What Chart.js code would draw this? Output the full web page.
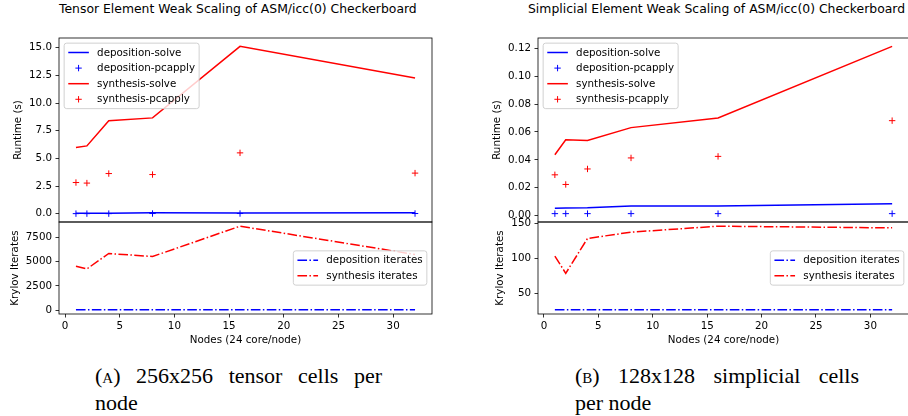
<!DOCTYPE html>
<html>
<head>
<meta charset="utf-8">
<script src="https://cdn.jsdelivr.net/npm/chart.js@4.4.1/dist/chart.umd.min.js"></script>
<style>
body { margin:0; width:908px; height:416px; overflow:hidden; background:#fff; position:relative; font-family:"DejaVu Sans"; }
canvas { position:absolute; }
.title { position:absolute; top:0; font-size:12.4px; line-height:17px; white-space:nowrap; color:#000; }
.cap { position:absolute; font-family:"Liberation Serif"; font-size:22px; line-height:27px; color:#000; }
.just { text-align:justify; text-align-last:justify; }
.sc { font-variant:small-caps; }
</style>
</head>
<body>
<div class="title" style="left:59px">Tensor Element Weak Scaling of ASM/icc(0) Checkerboard</div>
<div class="title" style="left:528px">Simplicial Element Weak Scaling of ASM/icc(0) Checkerboard</div>

<canvas id="tensorRuntime" width="442" height="204" style="left:0;top:28px"></canvas>
<canvas id="tensorIterates" width="442" height="136" style="left:0;top:212px"></canvas>
<canvas id="simplexRuntime" width="440" height="204" style="left:479px;top:28px"></canvas>
<canvas id="simplexIterates" width="440" height="136" style="left:479px;top:212px"></canvas>

<div class="cap" style="left:95px;top:362px;width:287px">
  <div class="just">(<span class="sc">a</span>) 256x256 tensor cells per</div>
  <div>node</div>
</div>
<div class="cap" style="left:575px;top:362px;width:284px">
  <div class="just">(<span class="sc">b</span>) 128x128 simplicial cells</div>
  <div>per node</div>
</div>

<script>
// nodes on the x axis
const nodes = [1, 2, 4, 8, 16, 32];
const xTicks = [0, 5, 10, 15, 20, 25, 30];

// 256x256 tensor cells per node
const tensorDepSolve = [0.04, 0.05, 0.05, 0.09, 0.07, 0.10];
const tensorDepPcapply = [0.01, 0.01, 0.01, 0.02, 0.02, 0.02];
const tensorSynSolve = [5.98, 6.13, 8.41, 8.66, 15.12, 12.26];
const tensorSynPcapply = [2.82, 2.77, 3.63, 3.54, 5.50, 3.67];
const tensorDepIter = [40, 41, 41, 42, 42, 43];
const tensorSynIter = [4540, 4260, 5850, 5540, 8670, 5750];
const tensorRuntimeTicks = [0, 2.5, 5, 7.5, 10, 12.5, 15];
const tensorIterTicks = [0, 2500, 5000, 7500];

// 128x128 simplicial cells per node
const simplexDepSolve = [0.0053, 0.0056, 0.0058, 0.0069, 0.0070, 0.0086];
const simplexDepPcapply = [0.0015, 0.0015, 0.0015, 0.0015, 0.0015, 0.0015];
const simplexSynSolve = [0.0437, 0.0544, 0.0539, 0.0631, 0.0700, 0.1213];
const simplexSynPcapply = [0.0293, 0.0224, 0.0335, 0.0414, 0.0425, 0.0681];
const simplexDepIter = [27, 27, 27, 27, 27, 27];
const simplexSynIter = [103.3, 78.8, 128.3, 137.2, 145.7, 143.3];
const simplexRuntimeTicks = [0, 0.02, 0.04, 0.06, 0.08, 0.10, 0.12];
const simplexIterTicks = [50, 100, 150];

Chart.defaults.font.family = '"DejaVu Sans"';
Chart.defaults.font.size = 10.3;
Chart.defaults.color = '#000';

const FS = 10.3;
const DASHDOT = [9.6, 2.4, 1.5, 2.4];

// matplotlib-like autoscale with 5% margins
function limits(arrs) {
  const all = [].concat(...arrs);
  const lo = Math.min(...all), hi = Math.max(...all);
  const m = (hi - lo) * 0.05;
  return [lo - m, hi + m];
}
const xLim = limits([nodes]);

function pts(ys) {
  return nodes.map((x, i) => ({ x: x, y: ys[i] }));
}

function drawLegend(chart, opts) {
  const ctx = chart.ctx, a = chart.chartArea;
  const pad = 0.4 * FS, hl = 2 * FS, htp = 0.8 * FS, ls = 0.5 * FS, bap = 0.5 * FS, rowH = 10.45;
  ctx.save();
  ctx.font = FS + 'px "DejaVu Sans"';
  const tw = Math.max(...opts.items.map(it => ctx.measureText(it.label).width));
  const n = opts.items.length;
  const w = 2 * pad + hl + htp + tw;
  const h = 2 * pad + n * rowH + (n - 1) * ls;
  let x, y;
  if (opts.loc === 'upper left') { x = a.left + bap; y = a.top + bap; }
  else { x = a.right - bap - w; y = (a.top + a.bottom) / 2 - h / 2; }

  ctx.beginPath();
  ctx.roundRect(x, y, w, h, 2.5);
  ctx.fillStyle = 'rgba(255,255,255,0.8)';
  ctx.fill();
  ctx.strokeStyle = '#cccccc';
  ctx.lineWidth = 0.9;
  ctx.stroke();

  opts.items.forEach((it, i) => {
    const cy = y + pad + i * (rowH + ls) + rowH / 2;
    const hx = x + pad;
    ctx.strokeStyle = it.color;
    if (it.kind === 'plus') {
      const cx = hx + hl / 2, r = 3.2;
      ctx.lineWidth = 1;
      ctx.setLineDash([]);
      ctx.beginPath();
      ctx.moveTo(cx - r, cy); ctx.lineTo(cx + r, cy);
      ctx.moveTo(cx, cy - r); ctx.lineTo(cx, cy + r);
      ctx.stroke();
    } else {
      ctx.lineWidth = 1.5;
      ctx.setLineDash(it.kind === 'dashdot' ? DASHDOT : []);
      ctx.beginPath();
      ctx.moveTo(hx, cy); ctx.lineTo(hx + hl, cy);
      ctx.stroke();
    }
    ctx.setLineDash([]);
    ctx.fillStyle = '#000';
    ctx.textBaseline = 'middle';
    ctx.textAlign = 'left';
    ctx.fillText(it.label, hx + hl + htp, cy + 0.5);
  });
  ctx.restore();
}

const mplBox = {
  id: 'mplBox',
  afterDraw(chart, args, opts) {
    const { ctx, chartArea: a } = chart;
    ctx.save();
    ctx.strokeStyle = '#000';
    ctx.lineWidth = 0.8;
    ctx.strokeRect(a.left, a.top, a.right - a.left, a.bottom - a.top);
    ctx.restore();
    if (opts.items) drawLegend(chart, opts);
  }
};

function lineSet(label, ys, color, dash) {
  return {
    label: label, data: pts(ys), borderColor: color, borderWidth: 1.5,
    borderDash: dash || [], pointRadius: 0, tension: 0, fill: false
  };
}
function plusSet(label, ys, color) {
  return {
    label: label, data: pts(ys), borderColor: color, backgroundColor: color,
    showLine: false, pointStyle: 'cross', pointRadius: 3.2, pointBorderWidth: 1
  };
}

function yScale(lim, ticks, dec, title, titlePad) {
  return {
    type: 'linear', min: lim[0], max: lim[1],
    afterBuildTicks: s => { s.ticks = ticks.map(v => ({ value: v })); },
    afterFit: s => { s.width = 59; },
    ticks: { padding: 3.5, callback: v => v.toFixed(dec) },
    grid: { drawOnChartArea: false, drawTicks: true, tickLength: 3.5, color: '#000', lineWidth: 0.8 },
    border: { display: false },
    title: { display: true, text: title, padding: { top: titlePad, bottom: 0 } }
  };
}

function xScale(show) {
  return {
    type: 'linear', min: xLim[0], max: xLim[1], display: show,
    afterBuildTicks: s => { s.ticks = xTicks.map(v => ({ value: v })); },
    afterFit: s => { s.height = show ? 34 : 0; },
    ticks: { padding: 3, maxRotation: 0, callback: v => String(v) },
    grid: { drawOnChartArea: false, drawTicks: true, tickLength: 3.5, color: '#000', lineWidth: 0.8 },
    border: { display: false },
    title: { display: true, text: 'Nodes (24 core/node)', padding: { top: 0, bottom: 1 } }
  };
}

function runtimeChart(id, depSolve, depPc, synSolve, synPc, ticks, dec, titlePad) {
  const lim = limits([depSolve, depPc, synSolve, synPc]);
  new Chart(document.getElementById(id), {
    type: 'line',
    data: {
      datasets: [
        plusSet('synthesis-pcapply', synPc, '#ff0000'),
        lineSet('synthesis-solve', synSolve, '#ff0000'),
        plusSet('deposition-pcapply', depPc, '#0000ff'),
        lineSet('deposition-solve', depSolve, '#0000ff')
      ]
    },
    options: {
      responsive: false, animation: false, events: [],
      layout: { padding: { top: 10, bottom: 10, left: 0, right: 10 } },
      scales: { x: xScale(false), y: yScale(lim, ticks, dec, 'Runtime (s)', titlePad) },
      plugins: {
        legend: { display: false }, tooltip: { enabled: false },
        mplBox: {
          loc: 'upper left',
          items: [
            { label: 'deposition-solve', color: '#0000ff', kind: 'line' },
            { label: 'deposition-pcapply', color: '#0000ff', kind: 'plus' },
            { label: 'synthesis-solve', color: '#ff0000', kind: 'line' },
            { label: 'synthesis-pcapply', color: '#ff0000', kind: 'plus' }
          ]
        }
      }
    },
    plugins: [mplBox]
  });
}

function iterChart(id, depIter, synIter, ticks, titlePad) {
  const lim = limits([depIter, synIter]);
  new Chart(document.getElementById(id), {
    type: 'line',
    data: {
      datasets: [
        lineSet('synthesis iterates', synIter, '#ff0000', DASHDOT),
        lineSet('deposition iterates', depIter, '#0000ff', DASHDOT)
      ]
    },
    options: {
      responsive: false, animation: false, events: [],
      layout: { padding: { top: 10, bottom: 0, left: 0, right: 10 } },
      scales: { x: xScale(true), y: yScale(lim, ticks, 0, 'Krylov Iterates', titlePad) },
      plugins: {
        legend: { display: false }, tooltip: { enabled: false },
        mplBox: {
          loc: 'center right',
          items: [
            { label: 'deposition iterates', color: '#0000ff', kind: 'dashdot' },
            { label: 'synthesis iterates', color: '#ff0000', kind: 'dashdot' }
          ]
        }
      }
    },
    plugins: [mplBox]
  });
}

runtimeChart('tensorRuntime', tensorDepSolve, tensorDepPcapply, tensorSynSolve, tensorSynPcapply, tensorRuntimeTicks, 1, 12);
iterChart('tensorIterates', tensorDepIter, tensorSynIter, tensorIterTicks, 9.5);
runtimeChart('simplexRuntime', simplexDepSolve, simplexDepPcapply, simplexSynSolve, simplexSynPcapply, simplexRuntimeTicks, 2, 12);
iterChart('simplexIterates', simplexDepIter, simplexSynIter, simplexIterTicks, 14.8);
</script>
</body>
</html>
